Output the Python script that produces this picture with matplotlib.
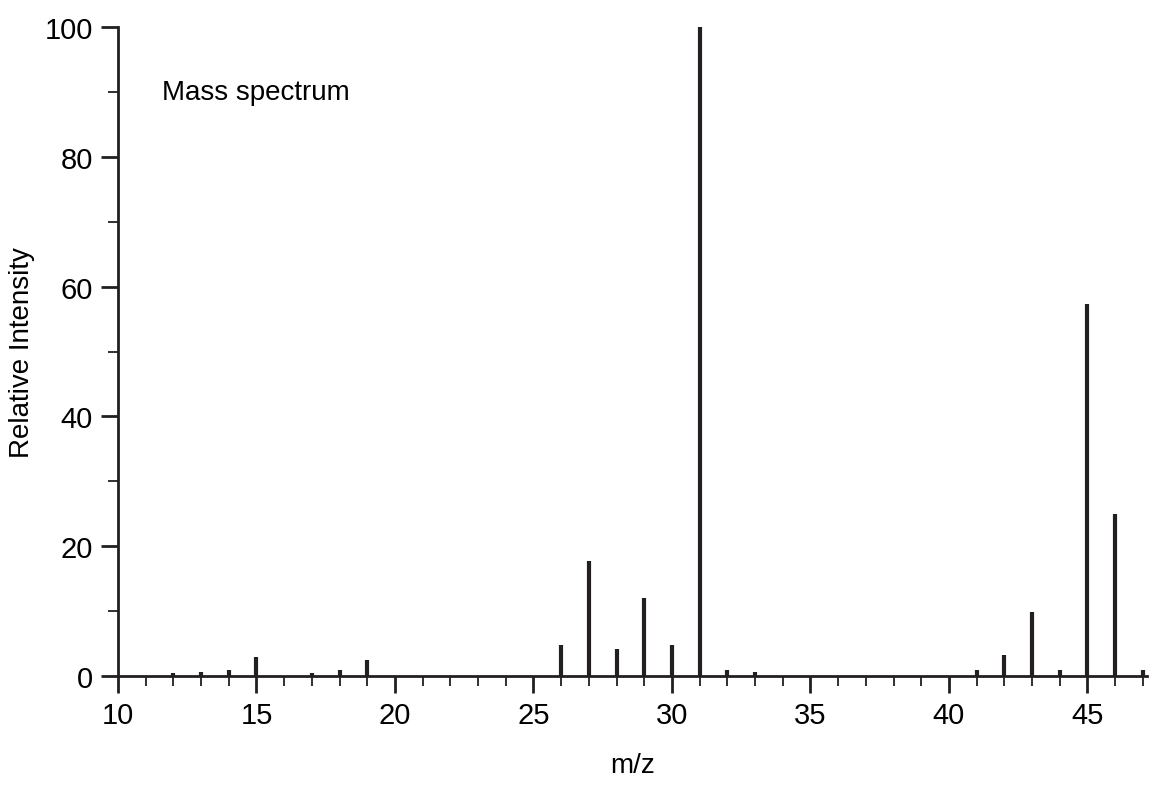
import matplotlib.pyplot as plt
from matplotlib.ticker import MultipleLocator

mz = [12, 13, 14, 15, 17, 18, 19, 26, 27, 28, 29, 30, 31, 32, 33, 41, 42, 43, 44, 45, 46, 47]
intensity = [0.5, 0.6, 1.0, 3.0, 0.4, 1.0, 2.4, 4.7, 17.7, 4.2, 12.0, 4.7, 100, 1.0, 0.6,
             1.0, 3.2, 9.9, 1.0, 57.3, 24.9, 1.0]

plt.rcParams['font.family'] = ['Liberation Sans', 'DejaVu Sans']
fig = plt.figure(figsize=(11.75, 8.04), dpi=100)
ax = fig.add_axes([118 / 1175, 1 - 677 / 804, (1147 - 118) / 1175, (677 - 28) / 804])
ax.vlines(mz, 0, intensity, color='#231f20', linewidth=3)
ax.set_xlim(10, 47.15)
ax.set_ylim(0, 100)
for s in ['top', 'right']:
    ax.spines[s].set_visible(False)
for s in ['left', 'bottom']:
    ax.spines[s].set_linewidth(2)
    ax.spines[s].set_color('#231f20')
ax.xaxis.set_major_locator(MultipleLocator(5))
ax.xaxis.set_minor_locator(MultipleLocator(1))
ax.yaxis.set_major_locator(MultipleLocator(20))
ax.yaxis.set_minor_locator(MultipleLocator(10))
ax.tick_params(which='major', length=12, width=2, labelsize=21, color='#231f20', pad=6)
ax.tick_params(which='minor', length=7, width=1.3, color='#231f20')
ax.set_xlabel('m/z', fontsize=20, va='center')
ax.xaxis.set_label_coords(0.5, -0.137)
ax.set_ylabel('Relative Intensity', fontsize=20, va='center')
ax.yaxis.set_label_coords(-0.093, 0.5)
ax.text(11.6, 90, 'Mass spectrum', fontsize=20, va='center')
fig.savefig('out.png')
